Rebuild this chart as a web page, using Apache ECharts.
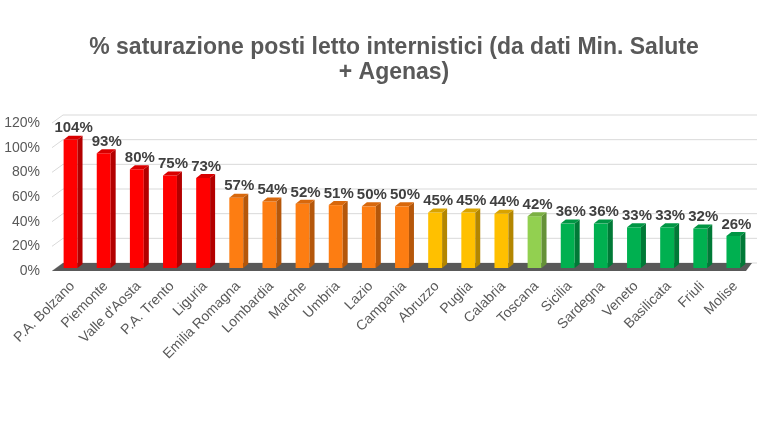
<!DOCTYPE html>
<html>
<head>
<meta charset="utf-8">
<script src="https://cdn.jsdelivr.net/npm/echarts@6/dist/echarts.min.js"></script>
<style>
  html, body { margin: 0; padding: 0; background: #fff; }
  #chart { width: 762px; height: 421px; }
</style>
</head>
<body>
<div id="chart"></div>
<script>
// dati
const regions = ['P.A. Bolzano', 'Piemonte', "Valle d'Aosta", 'P.A. Trento', 'Liguria',
  'Emilia Romagna', 'Lombardia', 'Marche', 'Umbria', 'Lazio', 'Campania',
  'Abruzzo', 'Puglia', 'Calabria', 'Toscana',
  'Sicilia', 'Sardegna', 'Veneto', 'Basilicata', 'Friuli', 'Molise']
const saturation = [104, 93, 80, 75, 73, 57, 54, 52, 51, 50, 50, 45, 45, 44, 42, 36, 36, 33, 33, 32, 26]
// classe colore per ogni regione
const colorClass = [0, 0, 0, 0, 0, 1, 1, 1, 1, 1, 1, 2, 2, 2, 3, 4, 4, 4, 4, 4, 4]
const yTicks = [0, 20, 40, 60, 80, 100, 120]

const palette = [
  { front: '#ff0000', side: '#b30000', top: '#d90000' },
  { front: '#fd7d12', side: '#b5570a', top: '#d8680c' },
  { front: '#ffc000', side: '#b38600', top: '#d9a300' },
  { front: '#92d050', side: '#659138', top: '#7cb044' },
  { front: '#00b050', side: '#007a37', top: '#009644' }
]
const DX = 5, DY = -4
const BAR_SHIFT = -3 // barre sul piano intermedio della profondità
const FONT = 'Arial, "Liberation Sans", sans-serif'

function renderBar (params, api) {
  const idx = api.value(0)
  const val = api.value(1)
  const top = api.coord([idx, val])
  const base = api.coord([idx, 0])
  const yt = top[1] + BAR_SHIFT
  const yb = base[1] + BAR_SHIFT
  const w = api.size([1, 0])[0] * 0.42
  const x0 = top[0] - w / 2 - 2
  const x1 = x0 + w
  const c = palette[colorClass[idx]]
  return {
    type: 'group',
    children: [
      { type: 'rect', shape: { x: x0, y: yt, width: w, height: yb - yt }, style: { fill: c.front } },
      { type: 'polygon', shape: { points: [[x1, yt], [x1 + DX, yt + DY], [x1 + DX, yb + DY], [x1, yb]] }, style: { fill: c.side } },
      { type: 'polygon', shape: { points: [[x0, yt], [x0 + DX, yt + DY], [x1 + DX, yt + DY], [x1, yt]] }, style: { fill: c.top } },
      {
        type: 'text',
        style: {
          text: val + '%', x: top[0] + 1, y: yt - 4,
          align: 'center', verticalAlign: 'bottom',
          font: 'bold 15px ' + FONT, fill: '#404040'
        }
      }
    ]
  }
}

// pavimento e pareti (griglia 3D)
function renderFloor (params, api) {
  const cs = params.coordSys
  const xl = cs.x
  const xr = cs.x + cs.width
  const children = []
  yTicks.forEach((v) => {
    const y = api.coord([0, v])[1]
    children.push({
      type: 'polyline',
      shape: { points: [[xl - 4, y], [xl + 7, y - 8], [xr + 5, y - 8]] },
      style: { stroke: '#d9d9d9', lineWidth: 1, fill: null }
    })
  })
  const yb = api.coord([0, 0])[1]
  children.push({
    type: 'polygon',
    shape: { points: [[xl - 4, yb], [xl + 7, yb - 8], [xr, yb - 8], [xr - 6, yb]] },
    style: { fill: '#595959' }
  })
  return { type: 'group', children }
}

const chart = echarts.init(document.getElementById('chart'))
chart.setOption({
  animation: false,
  textStyle: { fontFamily: FONT },
  title: {
    text: '% saturazione posti letto internistici (da dati Min. Salute\n+ Agenas)',
    left: 389,
    top: 30,
    textAlign: 'center',
    textStyle: { fontSize: 23, fontWeight: 'bold', color: '#595959', lineHeight: 25, fontFamily: FONT }
  },
  grid: { left: 56, right: 10, top: 123, bottom: 150 },
  xAxis: {
    type: 'category',
    data: regions,
    axisLine: { show: false },
    axisTick: { show: false },
    axisLabel: { rotate: 45, fontSize: 14, color: '#595959', margin: 13, interval: 0 }
  },
  yAxis: {
    type: 'value',
    min: 0,
    max: 120,
    interval: 20,
    axisLine: { show: false },
    axisTick: { show: false },
    axisLabel: { formatter: '{value}%', fontSize: 14, color: '#595959', margin: 16 },
    splitLine: { show: false }
  },
  series: [
    {
      type: 'custom',
      renderItem: renderFloor,
      data: [[0, 0]],
      z: 1,
      silent: true
    },
    {
      type: 'custom',
      renderItem: renderBar,
      data: saturation.map((v, i) => [i, v]),
      encode: { x: 0, y: 1 },
      z: 2
    }
  ]
})
</script>
</body>
</html>
